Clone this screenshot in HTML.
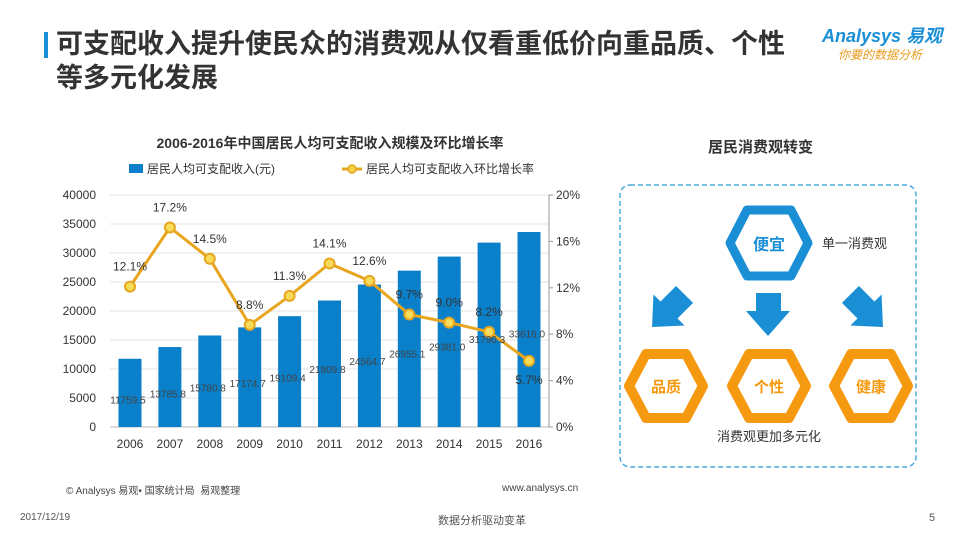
<!DOCTYPE html>
<html><head><meta charset="utf-8">
<style>
body{margin:0;width:960px;height:540px;overflow:hidden;background:#fff;font-family:"Liberation Sans","Noto Sans CJK SC",sans-serif;position:relative}
.abs{position:absolute}
</style></head><body>
<div class="abs" style="left:44px;top:32px;width:4px;height:26px;background:#1a8fd6"></div>
<div class="abs" style="left:56px;top:27px;width:800px;white-space:nowrap;font-size:27px;font-weight:bold;color:#333;line-height:34px;font-family:'Liberation Sans','Noto Sans CJK SC',sans-serif">可支配收入提升使民众的消费观从仅看重低价向重品质、个性<br>等多元化发展</div>
<div class="abs" style="left:822px;top:22px;font-size:18px;font-weight:bold;color:#1a8fd6;font-style:italic">Analysys 易观</div>
<div class="abs" style="left:838px;top:46px;font-size:12px;color:#e89a1a;font-style:italic">你要的数据分析</div>

<svg class="abs" style="left:0;top:0" width="960" height="540">
<text x="330" y="148" text-anchor="middle" font-size="14" font-weight="bold" fill="#333">2006-2016年中国居民人均可支配收入规模及环比增长率</text>
<rect x="129" y="164" width="14" height="9" fill="#0a7fca"/>
<text x="147" y="173" font-size="12" fill="#333">居民人均可支配收入(元)</text>
<line x1="342" y1="169" x2="362" y2="169" stroke="#e8a620" stroke-width="3"/>
<circle cx="352" cy="169" r="4" fill="#f5d24a" stroke="#e8a620" stroke-width="1.5"/>
<text x="366" y="173" font-size="12" fill="#333">居民人均可支配收入环比增长率</text>
<g id="chart"></g>
</svg>

<div class="abs" style="left:66px;top:482px;font-size:10px;color:#444">© Analysys 易观• 国家统计局&nbsp; 易观整理</div>
<div class="abs" style="left:502px;top:483px;font-size:10px;color:#444">www.analysys.cn</div>
<div class="abs" style="left:20px;top:512px;font-size:10px;color:#555">2017/12/19</div>
<div class="abs" style="left:438px;top:512px;font-size:11px;color:#555">数据分析驱动变革</div>
<div class="abs" style="left:929px;top:512px;font-size:11px;color:#555">5</div>

<div class="abs" style="left:708px;top:136px;font-size:15px;font-weight:bold;color:#333">居民消费观转变</div>
<svg class="abs" style="left:0;top:0" width="960" height="540">
<rect x="620" y="185" width="296" height="282" rx="10" fill="none" stroke="#4aa8dc" stroke-width="1.5" stroke-dasharray="5,3"/>
<polygon points="747,210 791,210 808,243 791,276 747,276 730,243" fill="#fff" stroke="#1a8fd6" stroke-width="9" stroke-linejoin="round"/>
<text x="769" y="250" text-anchor="middle" font-size="16" font-weight="bold" fill="#1a8fd6">便宜</text>
<text x="822" y="248" font-size="13" fill="#333">单一消费观</text>
<g fill="#1a8fd6">
<polygon points="756,293 781,293 781,311 790,311 768,336 746,311 756,311"/>
<g transform="translate(669,310) rotate(45)"><polygon points="-12,-22 12,-22 12,0 22,0 0,24 -22,0 -12,0"/></g>
<g transform="translate(866,310) rotate(-45)"><polygon points="-12,-22 12,-22 12,0 22,0 0,24 -22,0 -12,0"/></g>
</g>
<g>
<polygon points="646,354 686,354 703,386 686,418 646,418 629,386" fill="#fff" stroke="#f59a10" stroke-width="10" stroke-linejoin="round"/>
<text x="666" y="392" text-anchor="middle" font-size="15" font-weight="bold" fill="#f59a10">品质</text>
<polygon points="749,354 789,354 806,386 789,418 749,418 732,386" fill="#fff" stroke="#f59a10" stroke-width="10" stroke-linejoin="round"/>
<text x="769" y="392" text-anchor="middle" font-size="15" font-weight="bold" fill="#f59a10">个性</text>
<polygon points="851,354 891,354 908,386 891,418 851,418 834,386" fill="#fff" stroke="#f59a10" stroke-width="10" stroke-linejoin="round"/>
<text x="871" y="392" text-anchor="middle" font-size="15" font-weight="bold" fill="#f59a10">健康</text>
</g>
<text x="769" y="441" text-anchor="middle" font-size="13" fill="#333">消费观更加多元化</text>
</svg>

<script>
const years=["2006","2007","2008","2009","2010","2011","2012","2013","2014","2015","2016"];
const income=[11759.5,13785.8,15780.8,17174.7,19109.4,21809.8,24564.7,26955.1,29381.0,31790.3,33616.0];
const growth=[12.1,17.2,14.5,8.8,11.3,14.1,12.6,9.7,9.0,8.2,5.7];
const leftTicks=[0,5000,10000,15000,20000,25000,30000,35000,40000];
const rightTicks=[0,4,8,12,16,20];
const NS="http://www.w3.org/2000/svg";
const g=document.getElementById('chart');
const y0=427,yTop=195,xL=110,xR=549;
const yL=v=>y0-(v/40000)*(y0-yTop);
const yR=v=>y0-(v/20)*(y0-yTop);
const xC=i=>130+i*39.9;
function mk(t,a,txt){const e=document.createElementNS(NS,t);for(const k in a)e.setAttribute(k,a[k]);if(txt!==undefined)e.textContent=txt;g.appendChild(e);return e;}
leftTicks.forEach(v=>{
 const l=mk('line',{x1:xL,x2:xR,y1:yL(v),y2:yL(v),stroke:v===0?'#bbb':'#e3e3e3','stroke-width':1});
 
 
 const t=mk('text',{x:96,y:yL(v)+4,'text-anchor':'end','font-size':12,fill:'#333'},String(v));
 
 
});
const ax=mk('line',{x1:xR,x2:xR,y1:yTop,y2:y0,stroke:'#999'});


rightTicks.forEach(v=>{
 mk('line',{x1:xR,x2:xR+4,y1:yR(v),y2:yR(v),stroke:'#999'});
 const t=mk('text',{x:556,y:yR(v)+4,'font-size':12,fill:'#333'},v+'%');
 
 
});
years.forEach((y,i)=>{
 const r=mk('rect',{x:xC(i)-11.5,y:yL(income[i]),width:23,height:y0-yL(income[i]),fill:'#0a7fca'});
 
 
 const t=mk('text',{x:xC(i),y:448,'text-anchor':'middle','font-size':12,fill:'#333'},y);
 
 
});
mk('polyline',{points:growth.map((v,i)=>xC(i)+','+yR(v)).join(' '),fill:'none',stroke:'#e8a620','stroke-width':3});
years.forEach((y,i)=>{
 const c=mk('circle',{cx:xC(i),cy:yR(growth[i]),r:5,fill:'#f7dc5a',stroke:'#e8a620','stroke-width':2});
 
 
 const lbl=mk('text',{x:xC(i),y:i===10?yR(growth[i])+23:yR(growth[i])-16,'text-anchor':'middle','font-size':12,fill:'#333'},growth[i].toFixed(1)+'%');
 
 
 const vl=mk('text',{x:xC(i)-2,y:yL(income[i]*0.52)+12,'text-anchor':'middle','font-size':10,fill:'#444'},income[i].toFixed(1));
 
 
});
</script>
</body></html>
